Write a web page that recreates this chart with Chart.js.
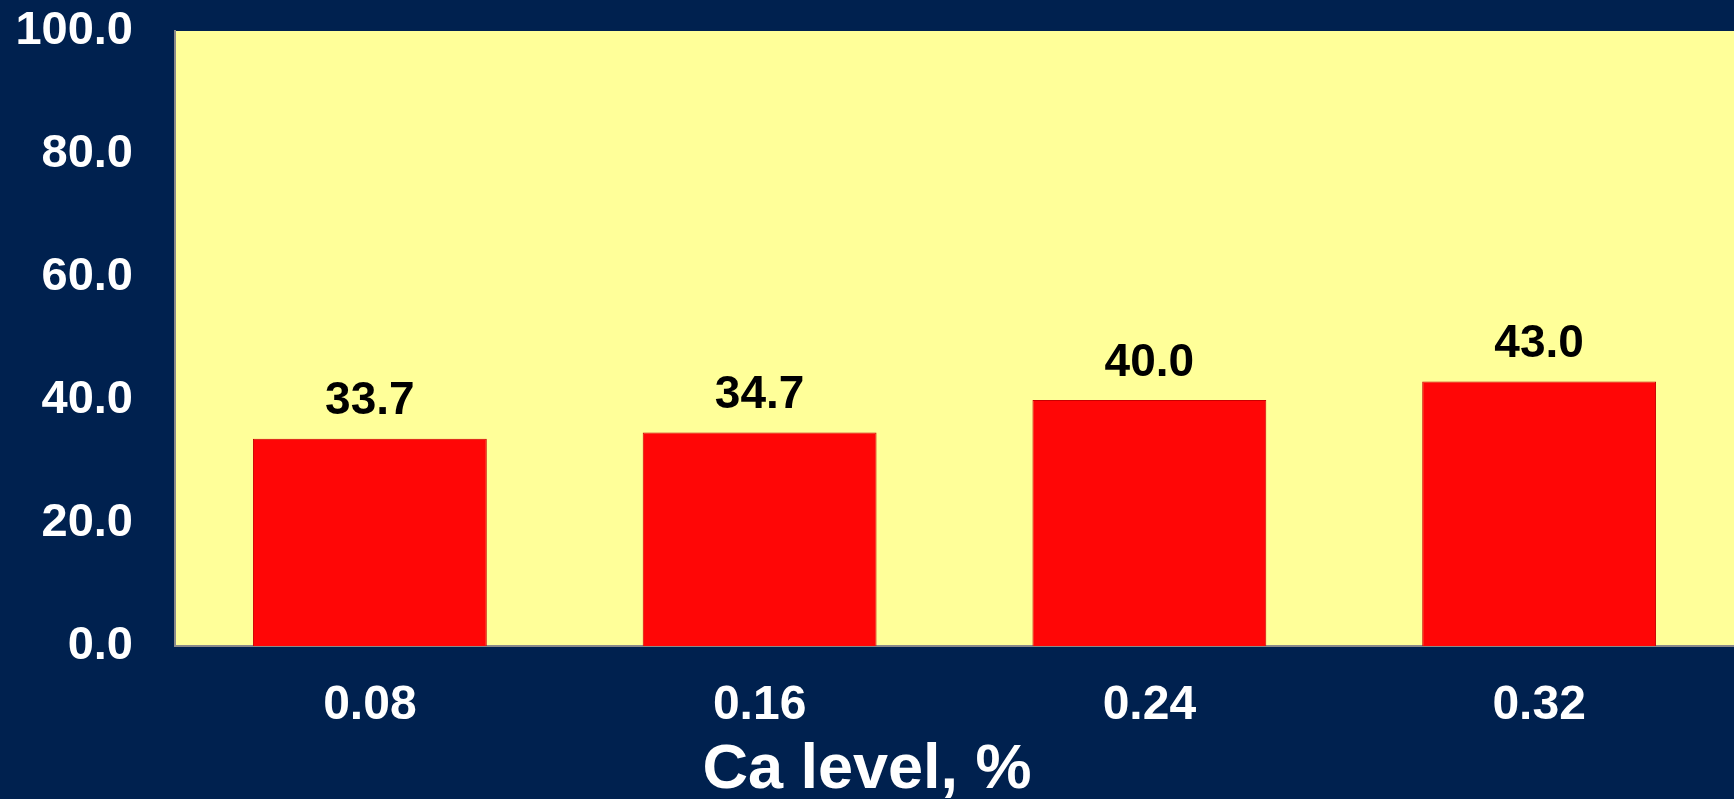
<!DOCTYPE html>
<html>
<head>
<meta charset="utf-8">
<script src="https://cdn.jsdelivr.net/npm/chart.js@4/dist/chart.umd.min.js"></script>
<style>
  html, body { margin: 0; padding: 0; background: #00214f; }
  #wrap { width: 1734px; height: 799px; }
</style>
</head>
<body>
<div id="wrap"><canvas id="ctx"></canvas></div>
<script>
// data
var caLevels = ['0.08', '0.16', '0.24', '0.32'];
var values = [33.7, 34.7, 40.0, 43.0];
var yTicks = [0, 20, 40, 60, 80, 100];

var fontFam = '"Liberation Sans", Arial, sans-serif';

// plot area fill (yellow box)
var plotBg = {
  id: 'plotBg',
  beforeDraw: function (chart) {
    var a = chart.chartArea, c = chart.ctx;
    c.save();
    c.fillStyle = '#ffff99';
    c.fillRect(a.left, a.top, a.right - a.left, a.bottom - a.top);
    c.restore();
  }
};

// value labels above bars
var barLabels = {
  id: 'barLabels',
  afterDatasetsDraw: function (chart) {
    var c = chart.ctx;
    var meta = chart.getDatasetMeta(0);
    c.save();
    c.font = 'bold 46px ' + fontFam;
    c.fillStyle = '#000000';
    c.textAlign = 'center';
    c.textBaseline = 'middle';
    meta.data.forEach(function (bar, i) {
      c.fillText(values[i].toFixed(1), bar.x, bar.y - 37);
    });
    c.restore();
  }
};

var chart = new Chart(document.getElementById('ctx'), {
  type: 'bar',
  data: {
    labels: caLevels,
    datasets: [{
      data: values,
      backgroundColor: '#ff0606',
      borderColor: '#c80000',
      borderWidth: 1,
      barPercentage: 0.6,
      categoryPercentage: 1.0
    }]
  },
  options: {
    responsive: true,
    maintainAspectRatio: false,
    animation: false,
    layout: { padding: 0 },
    plugins: {
      legend: { display: false },
      tooltip: { enabled: false },
      title: {
        display: true,
        position: 'bottom',
        text: 'Ca level, %',
        color: '#ffffff',
        font: { family: fontFam, size: 63, weight: 'bold', lineHeight: 0.8 },
        padding: { top: 5, bottom: 3 }
      }
    },
    scales: {
      x: {
        grid: { display: false, drawTicks: false },
        border: { display: true, color: '#8a8a8a', width: 2 },
        ticks: {
          color: '#ffffff',
          padding: 31,
          font: { family: fontFam, size: 48, weight: 'bold' }
        },
        afterFit: function (axis) { axis.height = 94.6; }
      },
      y: {
        min: 0,
        max: 100,
        afterBuildTicks: function (axis) {
          axis.ticks = yTicks.map(function (v) { return { value: v }; });
        },
        grid: { display: false, drawTicks: false },
        border: { display: true, color: '#8a8a8a', width: 2 },
        ticks: {
          color: '#ffffff',
          padding: 42,
          font: { family: fontFam, size: 47, weight: 'bold' },
          callback: function (v) { return Number(v).toFixed(1); }
        },
        afterFit: function (axis) {
          axis.width = 175;
          axis.paddingTop = 31;
          axis.paddingBottom = 0;
        }
      }
    }
  },
  plugins: [plotBg, barLabels]
});
</script>
</body>
</html>
